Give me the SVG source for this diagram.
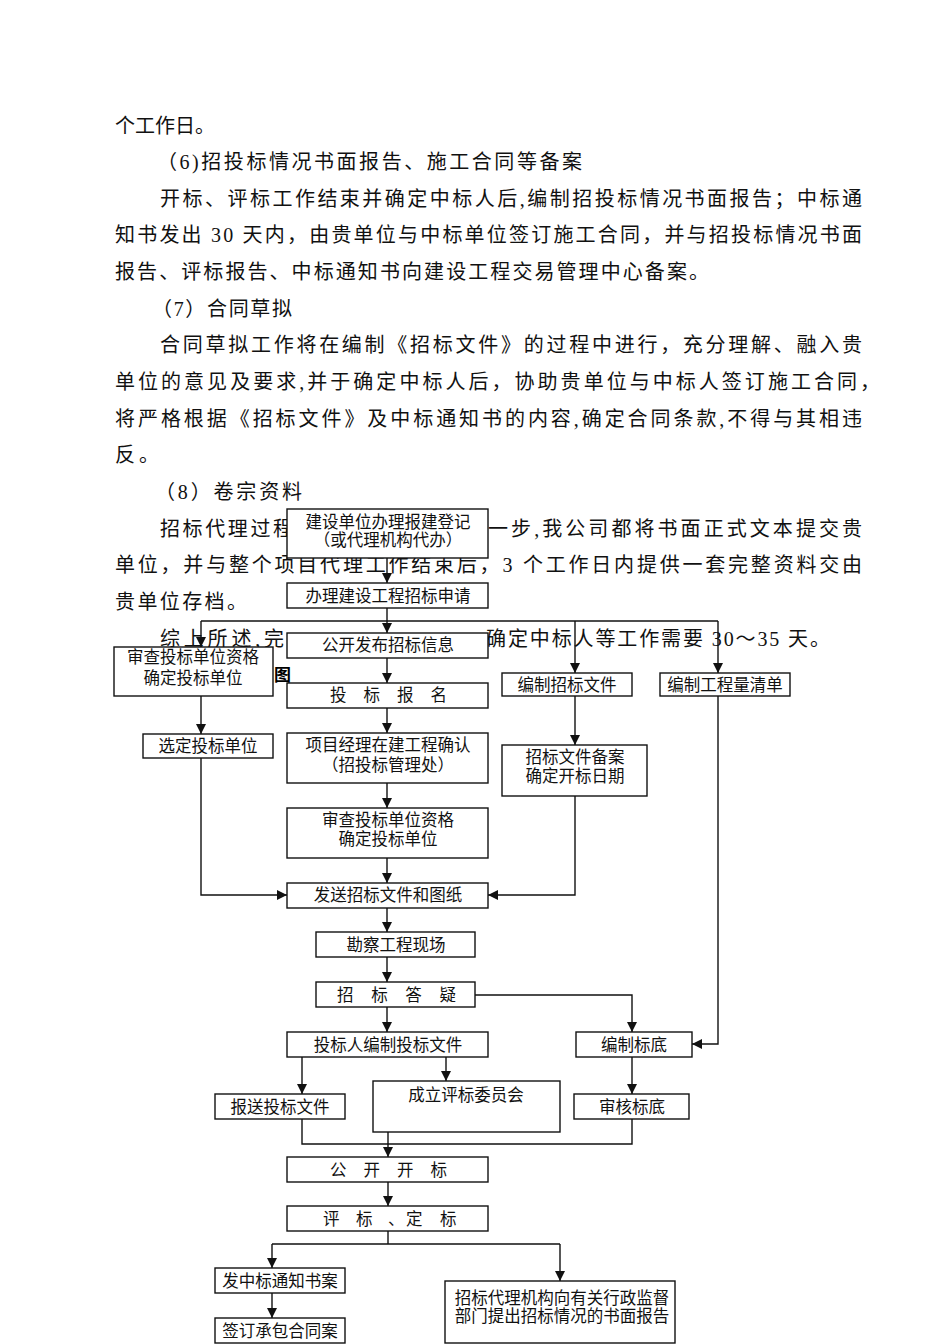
<svg xmlns="http://www.w3.org/2000/svg" width="950" height="1344" viewBox="0 0 950 1344">
<style>
.body{font-family:"Liberation Serif","Noto Sans CJK SC",serif;font-size:20px;fill:#111}
.lbl{font-family:"Liberation Serif","Noto Sans CJK SC",serif;font-size:16.5px;fill:#111;text-anchor:middle}
.sp{font-family:"Liberation Serif","Noto Sans CJK SC",serif;font-size:16.5px;fill:#111}
.box{fill:#fff;stroke:#111;stroke-width:1.4}
.ln{fill:none;stroke:#111;stroke-width:1.4}
.ar{fill:none;stroke:#111;stroke-width:1.4;marker-end:url(#ah)}
</style>
<defs>
<marker id="ah" markerUnits="userSpaceOnUse" markerWidth="10" markerHeight="10" refX="10" refY="5" orient="auto">
<path d="M0,0 L10,5 L0,10 z" fill="#111"/>
</marker>
</defs>
<rect width="950" height="1344" fill="#fff"/>
<g id="bodytext">
<text class="body" x="115" y="132.5" textLength="100" lengthAdjust="spacing">个工作日。</text>
<text class="body" x="157" y="169" textLength="425" lengthAdjust="spacing">（6)招投标情况书面报告、施工合同等备案</text>
<text class="body" x="160" y="205.8" textLength="702" lengthAdjust="spacing">开标、评标工作结束并确定中标人后,编制招投标情况书面报告；中标通</text>
<text class="body" x="115" y="242.4" textLength="747" lengthAdjust="spacing">知书发出 30 天内，由贵单位与中标单位签订施工合同，并与招投标情况书面</text>
<text class="body" x="115" y="279" textLength="594" lengthAdjust="spacing">报告、评标报告、中标通知书向建设工程交易管理中心备案。</text>
<text class="body" x="152" y="315.7" textLength="140" lengthAdjust="spacing">（7）合同草拟</text>
<text class="body" x="160" y="352.3" textLength="702" lengthAdjust="spacing">合同草拟工作将在编制《招标文件》的过程中进行，充分理解、融入贵</text>
<text class="body" x="115" y="389" textLength="765" lengthAdjust="spacing">单位的意见及要求,并于确定中标人后，协助贵单位与中标人签订施工合同，</text>
<text class="body" x="115" y="425.6" textLength="747" lengthAdjust="spacing">将严格根据《招标文件》及中标通知书的内容,确定合同条款,不得与其相违</text>
<text class="body" x="115" y="462.3" textLength="44" lengthAdjust="spacing">反。</text>
<text class="body" x="155" y="498.9" textLength="147" lengthAdjust="spacing">（8）卷宗资料</text>
<text class="body" x="160" y="535.5" textLength="133" lengthAdjust="spacing">招标代理过程</text>
<text class="body" x="488" y="535.5" textLength="374" lengthAdjust="spacing">一步,我公司都将书面正式文本提交贵</text>
<text class="body" x="115" y="572.2" textLength="747" lengthAdjust="spacing">单位，并与整个项目代理工作结束后，3 个工作日内提供一套完整资料交由</text>
<text class="body" x="115" y="608.8" textLength="132" lengthAdjust="spacing">贵单位存档。</text>
<text class="body" x="160" y="645.5" textLength="124" lengthAdjust="spacing">综上所述,完</text>
<text class="body" x="486" y="645.5" textLength="344" lengthAdjust="spacing">确定中标人等工作需要 30～35 天。</text>
<text x="274" y="681" style="font-family:'Liberation Sans','Noto Sans CJK SC',sans-serif;font-size:17px;font-weight:bold;fill:#000">图</text>
</g>
<g id="connectors">
<path class="ar" d="M387,558 V583"/>
<path class="ar" d="M387,608 V633"/>
<path class="ln" d="M201,621 H718"/>
<path class="ar" d="M201,621 V647"/>
<path class="ar" d="M575,621 V673"/>
<path class="ar" d="M718,621 V673"/>
<path class="ar" d="M387,658 V683"/>
<path class="ar" d="M201,696 V734"/>
<path class="ar" d="M387,708 V733"/>
<path class="ar" d="M575,696 V745"/>
<path class="ar" d="M387,783 V808"/>
<path class="ar" d="M387,858 V883"/>
<path class="ar" d="M201,758 V895 H287"/>
<path class="ar" d="M575,796 V895 H488"/>
<path class="ar" d="M387,908 V932"/>
<path class="ar" d="M387,957 V982"/>
<path class="ar" d="M475,995 H632 V1032"/>
<path class="ar" d="M387,1007 V1032"/>
<path class="ar" d="M718,696 V1044 H692"/>
<path class="ar" d="M302,1057 V1094"/>
<path class="ar" d="M446,1057 V1081"/>
<path class="ar" d="M632,1057 V1094"/>
<path class="ln" d="M302,1119 V1144 H632 V1119"/>
<path class="ar" d="M388,1132 V1157"/>
<path class="ar" d="M388,1182 V1206"/>
<path class="ln" d="M388,1231 V1244 M272,1244 H560"/>
<path class="ar" d="M272,1244 V1268"/>
<path class="ar" d="M560,1244 V1281"/>
<path class="ar" d="M272,1293 V1318"/>
</g>
<g id="n1"><rect class="box" x="287" y="509" width="201" height="49"/>
<text class="lbl" x="388" y="528">建设单位办理报建登记</text>
<text class="lbl" x="388" y="546">（或代理机构代办）</text></g>
<g id="n2"><rect class="box" x="287" y="583" width="201" height="25"/>
<text class="lbl" x="388" y="602">办理建设工程招标申请</text></g>
<g id="n3"><rect class="box" x="287" y="633" width="201" height="25"/>
<text class="lbl" x="388" y="651">公开发布招标信息</text></g>
<g id="n4"><rect class="box" x="114" y="647" width="159" height="49"/>
<text class="lbl" x="193" y="663">审查投标单位资格</text>
<text class="lbl" x="193" y="684">确定投标单位</text></g>
<g id="n5"><rect class="box" x="287" y="683" width="201" height="25"/>
<text class="sp" x="330" y="701" textLength="117" lengthAdjust="spacing">投标报名</text></g>
<g id="n6"><rect class="box" x="502" y="673" width="130" height="23"/>
<text class="lbl" x="567" y="690.5">编制招标文件</text></g>
<g id="n7"><rect class="box" x="660" y="673" width="130" height="23"/>
<text class="lbl" x="725" y="690.5">编制工程量清单</text></g>
<g id="n8"><rect class="box" x="143" y="734" width="130" height="24"/>
<text class="lbl" x="208" y="752">选定投标单位</text></g>
<g id="n9"><rect class="box" x="287" y="733" width="201" height="50"/>
<text class="lbl" x="388" y="751">项目经理在建工程确认</text>
<text class="lbl" x="388" y="771">（招投标管理处）</text></g>
<g id="n10"><rect class="box" x="502" y="745" width="145" height="51"/>
<text class="lbl" x="575" y="763">招标文件备案</text>
<text class="lbl" x="575" y="782">确定开标日期</text></g>
<g id="n11"><rect class="box" x="287" y="808" width="201" height="50"/>
<text class="lbl" x="388" y="826">审查投标单位资格</text>
<text class="lbl" x="388" y="845">确定投标单位</text></g>
<g id="n12"><rect class="box" x="287" y="883" width="201" height="25"/>
<text class="lbl" x="388" y="901">发送招标文件和图纸</text></g>
<g id="n13"><rect class="box" x="316" y="932" width="159" height="25"/>
<text class="lbl" x="396" y="950.5">勘察工程现场</text></g>
<g id="n14"><rect class="box" x="316" y="982" width="159" height="25"/>
<text class="sp" x="337" y="1000.5" textLength="119" lengthAdjust="spacing">招标答疑</text></g>
<g id="n15"><rect class="box" x="287" y="1032" width="201" height="25"/>
<text class="lbl" x="388" y="1050.5">投标人编制投标文件</text></g>
<g id="n16"><rect class="box" x="576" y="1032" width="116" height="25"/>
<text class="lbl" x="634" y="1050.5">编制标底</text></g>
<g id="n17"><rect class="box" x="215" y="1094" width="130" height="25"/>
<text class="lbl" x="280" y="1112.5">报送投标文件</text></g>
<g id="n18"><rect class="box" x="373" y="1081" width="187" height="51"/>
<text class="lbl" x="466" y="1100.5">成立评标委员会</text></g>
<g id="n19"><rect class="box" x="574" y="1094" width="115" height="25"/>
<text class="lbl" x="632" y="1112.5">审核标底</text></g>
<g id="n20"><rect class="box" x="287" y="1157" width="201" height="25"/>
<text class="sp" x="330" y="1175.5" textLength="117" lengthAdjust="spacing">公开开标</text></g>
<g id="n21"><rect class="box" x="287" y="1206" width="201" height="25"/>
<text class="sp" x="323 356 388 406 440" y="1224.5">评标、定标</text></g>
<g id="n22"><rect class="box" x="215" y="1268" width="130" height="25"/>
<text class="lbl" x="280" y="1286.5">发中标通知书案</text></g>
<g id="n23"><rect class="box" x="215" y="1318" width="130" height="25"/>
<text class="lbl" x="280" y="1336.5">签订承包合同案</text></g>
<g id="n24"><rect class="box" x="445" y="1281" width="230" height="62"/>
<text class="lbl" x="562" y="1303.5">招标代理机构向有关行政监督</text>
<text class="lbl" x="562" y="1322">部门提出招标情况的书面报告</text></g>
</svg>
